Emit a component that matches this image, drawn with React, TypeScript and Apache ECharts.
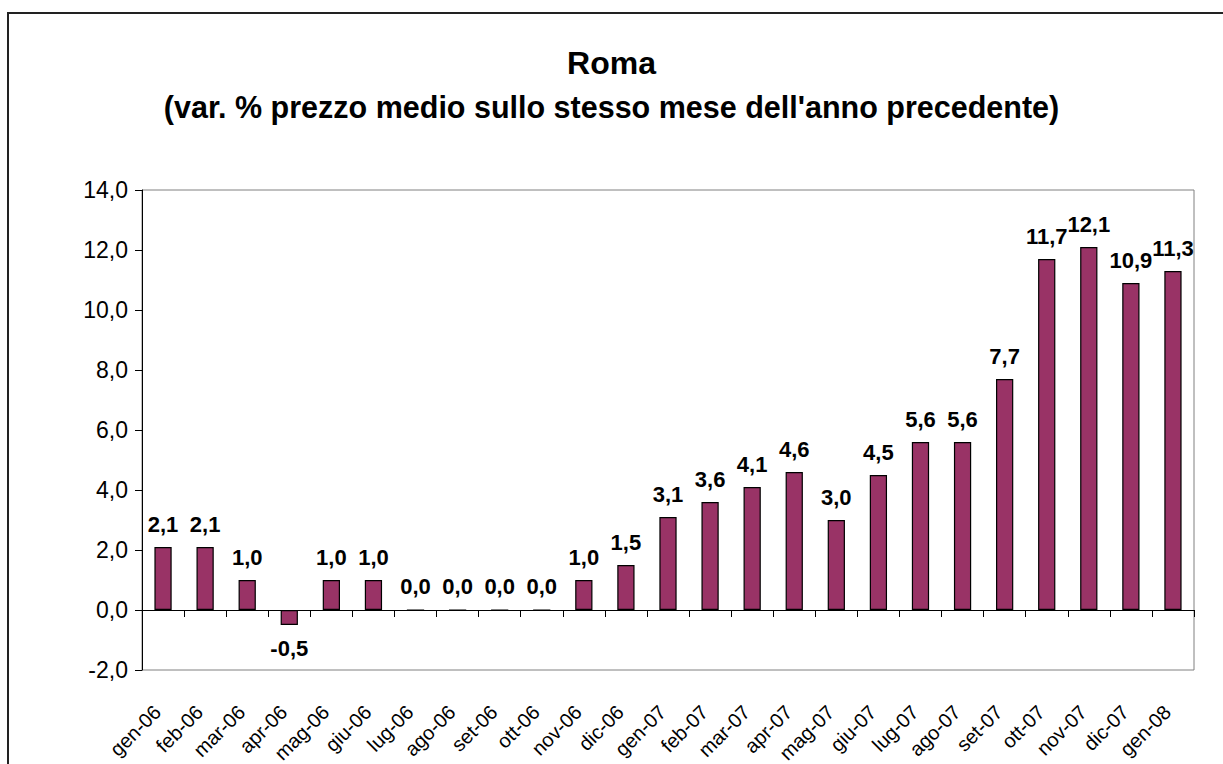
import React, { useEffect, useRef } from "react";
import * as echarts from "echarts";

const categories = [
  "gen-06", "feb-06", "mar-06", "apr-06", "mag-06", "giu-06", "lug-06", "ago-06", "set-06", "ott-06", "nov-06", "dic-06",
  "gen-07", "feb-07", "mar-07", "apr-07", "mag-07", "giu-07", "lug-07", "ago-07", "set-07", "ott-07", "nov-07", "dic-07",
  "gen-08",
];
const values = [
  2.1, 2.1, 1.0, -0.5, 1.0, 1.0, 0.0, 0.0, 0.0, 0.0, 1.0, 1.5,
  3.1, 3.6, 4.1, 4.6, 3.0, 4.5, 5.6, 5.6, 7.7, 11.7, 12.1, 10.9,
  11.3,
];
const titleText = "Roma";
const subtitleText = "(var. % prezzo medio sullo stesso mese dell'anno precedente)";
const yMin = -2;
const yMax = 14;
const yInterval = 2;

const FONT = "'Liberation Sans', Arial, Helvetica, sans-serif";
const fmt = (v: number) => v.toFixed(1).replace(".", ",");

export default function App() {
  const ref = useRef<HTMLDivElement>(null);
  useEffect(() => {
    document.body.style.margin = "0";
    if (!ref.current) return;
    const chart = echarts.init(ref.current, undefined, { renderer: "svg" });
    chart.setOption({
      animation: false,
      backgroundColor: "#ffffff",
      textStyle: { fontFamily: FONT },
      title: [
        {
          text: titleText,
          left: "center",
          top: 47,
          padding: 0,
          textStyle: { fontFamily: FONT, fontSize: 32, fontWeight: "bold", color: "#000" },
        },
        {
          text: subtitleText,
          left: "center",
          top: 91,
          padding: 0,
          textStyle: { fontFamily: FONT, fontSize: 30.5, fontWeight: "bold", color: "#000" },
        },
      ],
      graphic: [
        {
          type: "rect",
          shape: { x: 8, y: 13, width: 1400, height: 1000 },
          style: { fill: "none", stroke: "#222", lineWidth: 2 },
          silent: true,
          z: 100,
        },
      ],
      grid: {
        left: 142,
        top: 190,
        width: 1052,
        height: 480,
        show: true,
        borderColor: "#808080",
        borderWidth: 1,
        backgroundColor: "transparent",
        containLabel: false,
        outerBoundsMode: "none",
      },
      xAxis: {
        type: "category",
        data: categories,
        boundaryGap: true,
        axisLine: { show: true, onZero: true, lineStyle: { color: "#000", width: 1 } },
        axisTick: { show: true, length: 7, alignWithLabel: false, lineStyle: { color: "#000" } },
        axisLabel: {
          interval: 0,
          rotate: 45,
          margin: 33,
          padding: [0, 8, 0, 0],
          fontSize: 20,
          color: "#000",
          fontFamily: FONT,
        },
        splitLine: { show: false },
      },
      yAxis: {
        type: "value",
        min: yMin,
        max: yMax,
        interval: yInterval,
        axisLine: { show: true, lineStyle: { color: "#000", width: 1 } },
        axisTick: { show: true, length: 7, lineStyle: { color: "#000" } },
        axisLabel: {
          formatter: (v: number) => fmt(v),
          fontSize: 23,
          color: "#000",
          margin: 14,
          fontFamily: FONT,
        },
        splitLine: { show: false },
      },
      series: [
        {
          type: "bar",
          data: values.map((v) => ({
            value: v,
            label: { position: v < 0 ? "bottom" : "top" },
          })),
          barWidth: "41%",
          itemStyle: { color: "#993366", borderColor: "#000", borderWidth: 1.2 },
          label: {
            show: true,
            position: "top",
            distance: 12,
            formatter: (p: any) => fmt(p.value),
            fontSize: 22,
            fontWeight: "bold",
            color: "#000",
            fontFamily: FONT,
          },
        },
      ],
    });
    return () => chart.dispose();
  }, []);
  return <div ref={ref} style={{ width: 1223, height: 764 }} />;
}
